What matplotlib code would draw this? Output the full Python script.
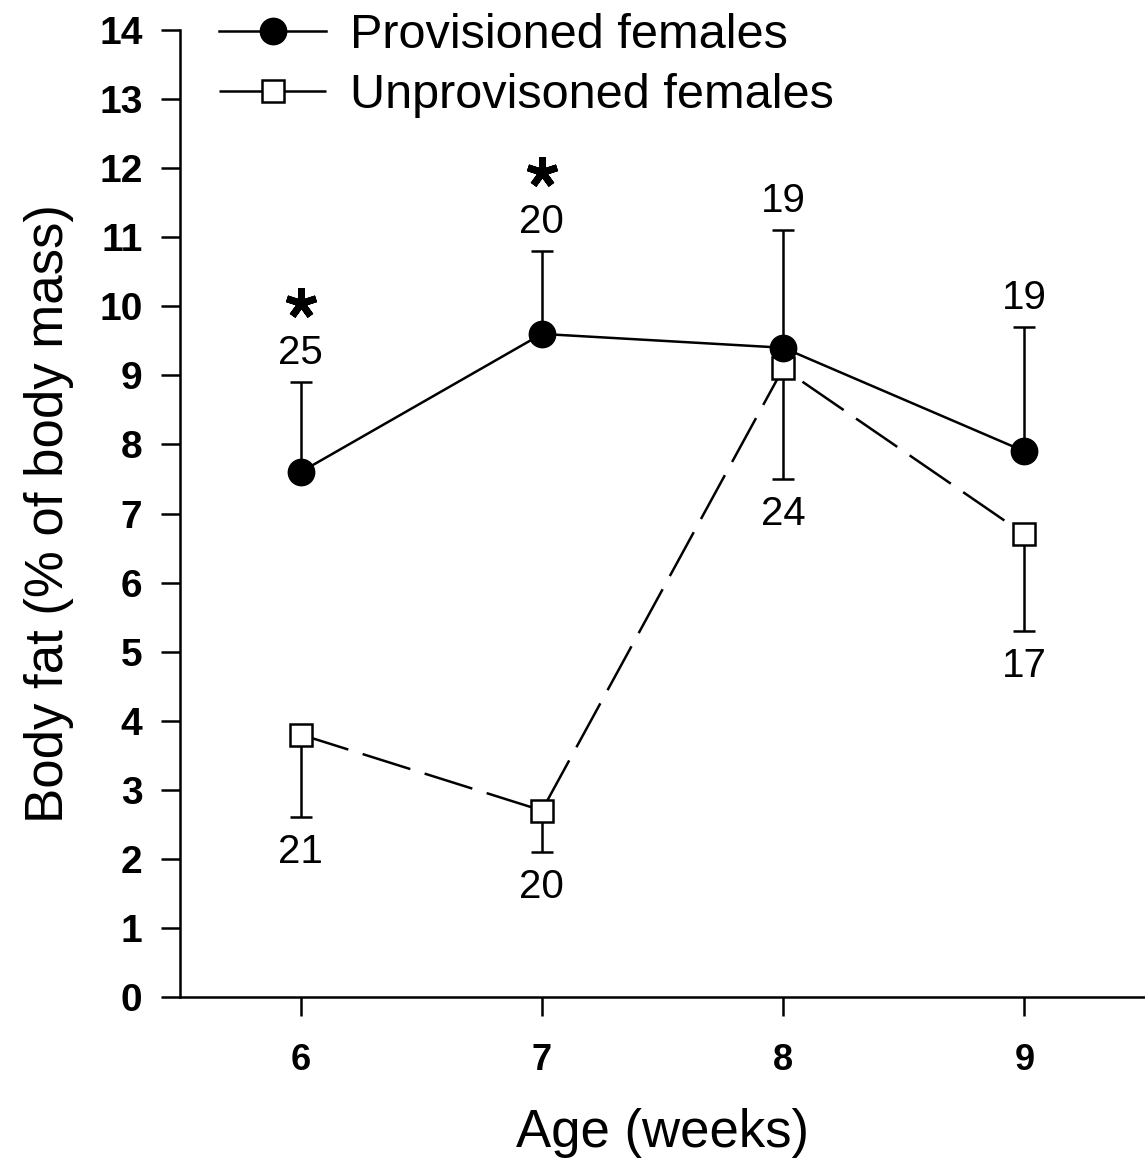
"""Body fat of provisioned vs unprovisioned females by age."""

import matplotlib
matplotlib.use("Agg")
import matplotlib.pyplot as plt
from matplotlib.lines import Line2D
from matplotlib.transforms import offset_copy

# data
ages = [6, 7, 8, 9]
prov_mean = [7.6, 9.6, 9.4, 7.9]
prov_err = [1.3, 1.2, 1.7, 1.8]          # upper error only
prov_n = [25, 20, 19, 19]
unprov_mean = [3.8, 2.7, 9.1, 6.7]
unprov_err = [1.2, 0.6, 1.6, 1.4]        # lower error only
unprov_n = [21, 20, 24, 17]
significant = [True, True, False, False]

plt.rcParams["font.family"] = ["Liberation Sans", "DejaVu Sans"]

LW = 1.8
DASH = (0, (20, 6))

fig = plt.figure(figsize=(11.45, 11.62), dpi=100)
ax = fig.add_axes([180 / 1145, 1 - 997 / 1162, 1 - 180 / 1145, (997 - 30) / 1162])

zero = [0] * len(ages)
ax.errorbar(ages, unprov_mean, yerr=[unprov_err, zero], fmt="none",
            ecolor="black", elinewidth=LW, capsize=8, capthick=LW, zorder=2)
ax.errorbar(ages, prov_mean, yerr=[zero, prov_err], fmt="none",
            ecolor="black", elinewidth=LW, capsize=8, capthick=LW, zorder=2)

ax.plot(ages, unprov_mean, color="black", lw=LW, ls=DASH,
        marker="s", ms=16, mfc="white", mec="black", mew=LW, zorder=3)
ax.plot(ages, prov_mean, color="black", lw=LW, ls="-",
        marker="o", ms=19, mfc="black", mec="black", zorder=4)

# sample sizes
for x, m, e, n in zip(ages, prov_mean, prov_err, prov_n):
    ax.annotate(str(n), (x, m + e), xytext=(0, 21), textcoords="offset points",
                ha="center", va="center", fontsize=29)
for x, m, e, n in zip(ages, unprov_mean, unprov_err, unprov_n):
    ax.annotate(str(n), (x, m - e), xytext=(0, -25), textcoords="offset points",
                ha="center", va="center", fontsize=29)

# significance asterisks above the upper error bars
star_tr = offset_copy(ax.transData, fig=fig, x=0, y=57, units="points")
sig_x = [x for x, s in zip(ages, significant) if s]
sig_y = [m + e for m, e, s in zip(prov_mean, prov_err, significant) if s]
ax.plot(sig_x, sig_y, ls="none", marker=(5, 2, 0), ms=22, mew=5,
        color="black", transform=star_tr, clip_on=False)

ax.set_xlim(5.5, 9.5)
ax.set_ylim(0, 14)
ax.set_xticks(ages)
ax.set_yticks(range(0, 15))
for s in ["top", "right"]:
    ax.spines[s].set_visible(False)
for s in ["left", "bottom"]:
    ax.spines[s].set_linewidth(LW)
ax.tick_params(axis="both", direction="out", length=14, width=LW)
ax.tick_params(axis="y", pad=13, labelsize=28)
ax.tick_params(axis="x", pad=19, labelsize=26)
for lab in ax.get_xticklabels() + ax.get_yticklabels():
    lab.set_fontweight("bold")

ax.set_xlabel("Age (weeks)", fontsize=38, labelpad=22)
ax.set_ylabel("Body fat (% of body mass)", fontsize=38, labelpad=18)

handles = [
    Line2D([], [], color="black", lw=LW, marker="o", ms=19, mfc="black"),
    Line2D([], [], color="black", lw=LW, ls=DASH, marker="s", ms=16,
           mfc="white", mew=LW),
]
fig.legend(handles, ["Provisioned females", "Unprovisoned females"],
           loc="upper left", bbox_to_anchor=(190 / 1145, 1 + 16 / 1162),
           frameon=False, fontsize=35, handlelength=2.2, handletextpad=0.5,
           labelspacing=0.3, borderpad=0.1)

fig.savefig("out.png", dpi=100)
